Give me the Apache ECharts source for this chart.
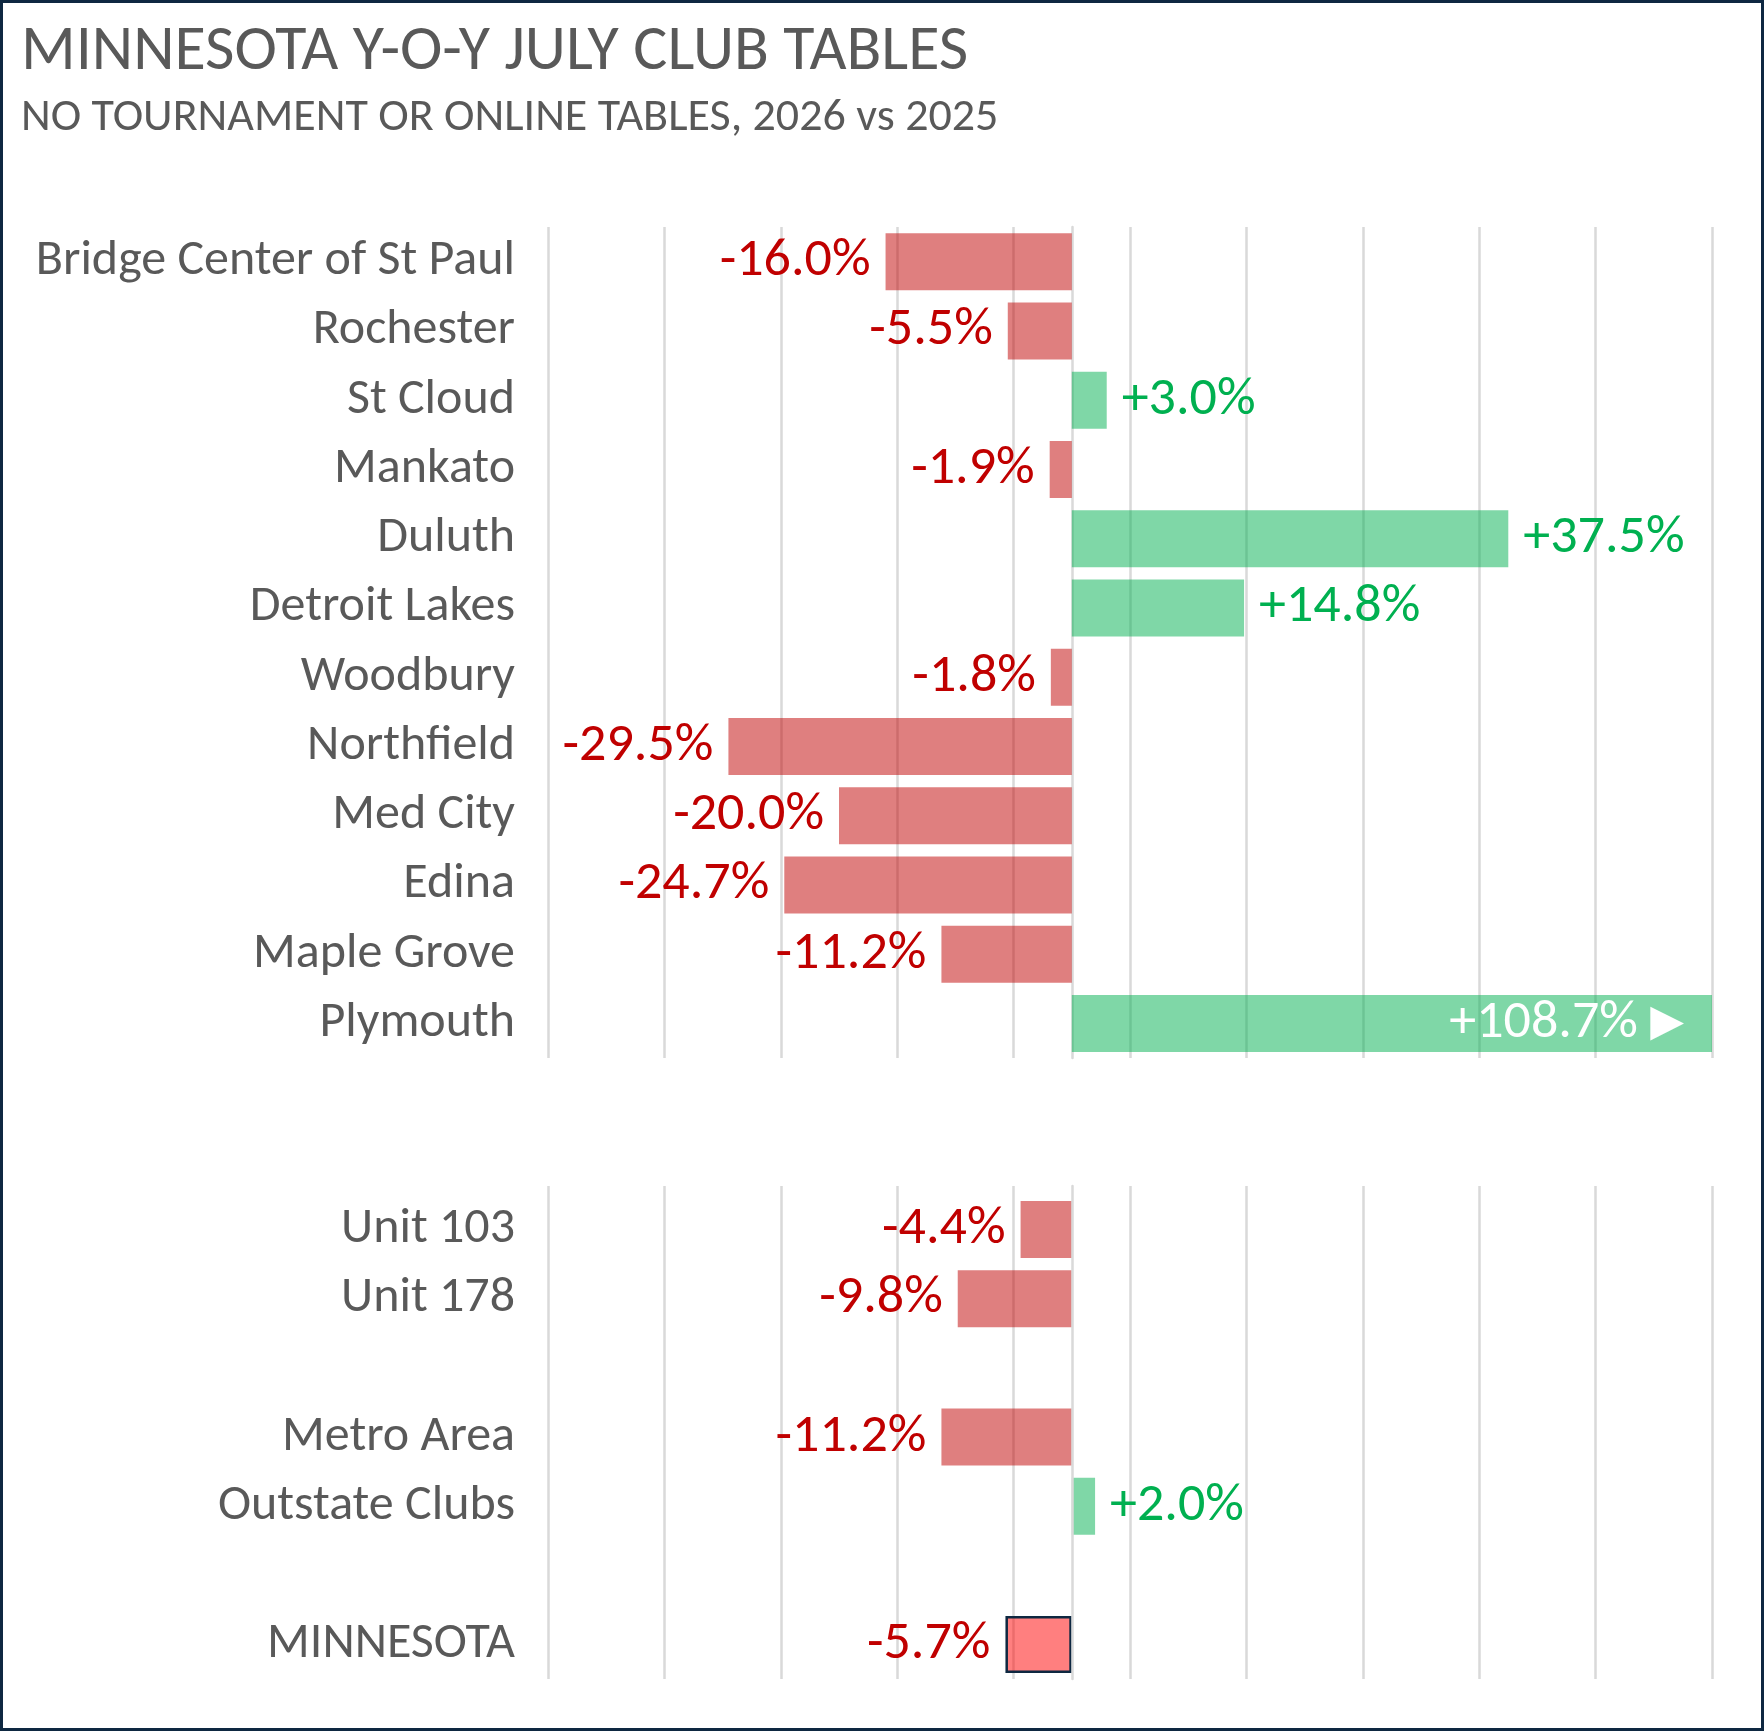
<!DOCTYPE html>
<html>
<head>
<meta charset="utf-8">
<script src="https://cdn.jsdelivr.net/npm/echarts@6/dist/echarts.min.js"></script>
<style>
html, body { margin: 0; padding: 0; background: #fff; }
#chart { width: 1764px; height: 1731px; }
</style>
</head>
<body>
<div id="chart"></div>
<script>
// club rows, top block
const clubNames = ['Bridge Center of St Paul', 'Rochester', 'St Cloud', 'Mankato', 'Duluth', 'Detroit Lakes',
  'Woodbury', 'Northfield', 'Med City', 'Edina', 'Maple Grove', 'Plymouth'];
const clubChange = [-16.0, -5.5, 3.0, -1.9, 37.5, 14.8, -1.8, -29.5, -20.0, -24.7, -11.2, 108.7];

// summary rows, bottom block (blank rows are spacers)
const summaryNames = ['Unit 103', 'Unit 178', ' ', 'Metro Area', 'Outstate Clubs', '  ', 'MINNESOTA'];
const summaryChange = [-4.4, -9.8, null, -11.2, 2.0, null, -5.7];

const axisMin = -45;
const axisMax = 55;
const axisStep = 5;

const RED = 'rgba(192,0,0,0.5)';
const GREEN = 'rgba(0,176,80,0.5)';
const GRID_LINE = '#d9d9d9';
const TEXT = '#595959';
const FONT = 'Carlito, Calibri, Lato, sans-serif';

const fmt = v => (v > 0 ? '+' : '') + v.toFixed(1) + '%';

function toItems(names, values) {
  return values.map((v, i) => {
    if (v == null) return '-';
    const up = v >= 0;
    const item = {
      value: v,
      itemStyle: { color: up ? GREEN : RED },
      label: { position: up ? 'right' : 'left', color: up ? '#00B050' : '#C00000' }
    };
    if (v > axisMax) {
      // bar runs off the axis: value goes inside with an arrow
      item.label = { position: 'insideRight', distance: 28, color: '#ffffff', formatter: fmt(v) + ' {t|▶}' };
    }
    if (names[i] === 'MINNESOTA') {
      item.itemStyle = { color: 'rgba(255,0,0,0.5)', borderColor: '#0e2841', borderWidth: 2.5 };
    }
    return item;
  });
}

const valueAxis = (gridIndex, lines) => ({
  type: 'value',
  gridIndex: gridIndex,
  min: axisMin,
  max: axisMax,
  interval: axisStep,
  axisLabel: { show: false },
  axisTick: { show: false },
  axisLine: { show: false },
  splitLine: { show: lines, lineStyle: { color: [GRID_LINE, 'rgba(0,0,0,0)'], width: 2.5 } }
});

const catAxis = (gridIndex, names, line) => ({
  type: 'category',
  gridIndex: gridIndex,
  data: names,
  inverse: true,
  axisTick: { show: false },
  axisLine: { show: line, lineStyle: { color: GRID_LINE, width: 2.5 } },
  axisLabel: { color: TEXT, fontFamily: FONT, fontSize: 50, margin: 33 }
});

const barSeries = (idx, names, values) => ({
  type: 'bar',
  xAxisIndex: idx,
  yAxisIndex: idx,
  data: toItems(names, values),
  barWidth: 57,
  clip: true,
  label: {
    show: true,
    distance: 15,
    fontFamily: FONT,
    fontSize: 54,
    formatter: p => fmt(p.value),
    rich: { t: { fontFamily: 'DejaVu Sans', fontSize: 44, color: '#ffffff' } }
  }
});

const chart = echarts.init(document.getElementById('chart'));
chart.setOption({
  animation: false,
  backgroundColor: '#ffffff',
  title: [
    {
      text: 'MINNESOTA Y-O-Y JULY CLUB TABLES',
      left: 16, top: 16,
      textStyle: { fontFamily: FONT, fontWeight: 'normal', fontSize: 64, color: TEXT }
    },
    {
      text: 'NO TOURNAMENT OR ONLINE TABLES, 2026 vs 2025',
      left: 16, top: 90,
      textStyle: { fontFamily: FONT, fontWeight: 'normal', fontSize: 46, color: TEXT }
    }
  ],
  grid: [
    { left: 548, right: 52, top: 227, height: 831 },
    { left: 548, right: 52, top: 1195, height: 484 },
    // gridlines of the lower block reach a little above its first row
    { left: 548, right: 52, top: 1186, height: 493 }
  ],
  xAxis: [valueAxis(0, true), valueAxis(1, false), valueAxis(2, true)],
  yAxis: [
    catAxis(0, clubNames, true),
    catAxis(1, summaryNames, false),
    {
      type: 'value', gridIndex: 2, min: 0, max: 1, z: 3,
      axisLabel: { show: false }, axisTick: { show: false }, splitLine: { show: false },
      axisLine: { show: true, lineStyle: { color: GRID_LINE, width: 2.5 } }
    }
  ],
  series: [barSeries(0, clubNames, clubChange), barSeries(1, summaryNames, summaryChange)],
  graphic: [{
    type: 'rect',
    z: 100,
    shape: { x: 1.5, y: 1.5, width: 1761, height: 1728 },
    style: { fill: 'none', stroke: '#0e2841', lineWidth: 3 }
  }]
});
</script>
</body>
</html>
